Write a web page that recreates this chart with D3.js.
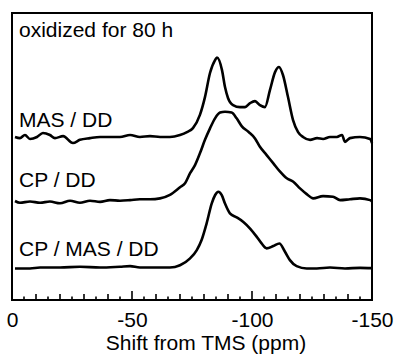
<!DOCTYPE html>
<html>
<head>
<meta charset="utf-8">
<script src="https://cdn.jsdelivr.net/npm/d3@7"></script>
<style>
  body { margin: 0; background: #fff; }
  text { font-family: "Liberation Sans", Arial, Helvetica, sans-serif; fill: #000; }
</style>
</head>
<body>
<div id="chart"></div>
<script>
// chemical shift (ppm) vs intensity above each baseline (a.u.)
const masDdPpm = [-1.25, -3.3, -5.4, -7.5, -10.4, -12.9, -15.8, -17.9, -21.3, -25.4, -28.3, -32.5, -36.7, -40.8, -45, -49.2, -53.3, -57.5, -61.7, -65.8, -70, -72.9, -75.4, -78.3, -80.4, -82.5, -84.6, -85.4, -87.5, -88.75, -90, -92.1, -95, -97.1, -99.2, -101.25, -103.3, -105.4, -107.5, -109.6, -111.25, -112.9, -115, -117.1, -119.2, -121.25, -124.2, -127.1, -129.6, -132.5, -135.4, -137.5, -138.75, -140.8, -145, -149.2, -150];
const masDdInt = [0.7, 0.3, 1.4, 0, 0.7, 2.1, 1.4, 0.3, 1.0, -1.4, -0.3, 0.3, 0.7, 0.7, 0.7, 1.4, 0.7, 1.0, 0.7, 0.7, 1.4, 2.4, 3.8, 8.4, 14.6, 23.0, 27.5, 28.4, 24.0, 18.1, 14.3, 11.8, 11.1, 11.1, 12.5, 13.2, 11.8, 11.1, 17.1, 23.3, 25.1, 22.3, 14.6, 6.6, 2.4, 0.7, -0.3, 0.3, 0, 0.7, 0.7, 1.4, -1.0, 0.3, 0.7, 0, -1.4];

const cpDdPpm = [-1.25, -3.3, -7.5, -11.7, -15.8, -20, -24.2, -28.3, -32.5, -36.7, -40.8, -45, -49.2, -53.3, -57.5, -61.7, -65.8, -70, -72.1, -74.2, -76.25, -78.3, -80.4, -82.5, -84.6, -86.7, -88.75, -91.5, -93.6, -95.7, -98.5, -101.25, -103.3, -106.1, -108.9, -111.7, -114.5, -117.2, -120, -122.8, -125.5, -129.6, -133.75, -136.7, -140.8, -145, -149.2, -150];
const cpDdInt = [0, -0.6, -0.2, -0.6, -0.2, -0.8, 0.1, -0.6, 0.1, -0.3, 0.3, 0.1, 0.3, 0.6, 0.6, 0.9, 2.1, 4.8, 6.2, 9.7, 12.5, 16.6, 21.3, 25.3, 28.8, 30.8, 31.1, 30.8, 28.8, 26.1, 24.1, 21.8, 18.9, 16.0, 13.1, 10.2, 7.9, 6.7, 4.4, 2.4, 0.9, 1.7, 1.5, 0.3, 0.6, 0.9, 0.3, -0.2];

const cpMasDdPpm = [-1.25, -7.5, -11.7, -20, -28.3, -36.7, -45, -49.2, -53.3, -61.7, -65.8, -70, -74.2, -77, -79, -81.1, -83.2, -84.6, -86, -87.4, -88.75, -90.8, -93.6, -96.4, -99.2, -102, -104, -106.1, -108.9, -111.4, -113.75, -115.8, -118.6, -122.8, -127, -132.5, -138.75, -145, -150];
const cpMasDdInt = [-0.1, -0.1, 0.2, 0.2, 0.5, 0.2, 0.5, 0.7, 0.2, 0.2, 0.2, 1.0, 3.4, 6.3, 9.8, 15.6, 22.5, 25.4, 26.6, 25.4, 22.5, 19.1, 17.7, 16.1, 13.8, 10.9, 8.6, 6.9, 7.7, 8.6, 5.7, 2.8, 0.7, -0.1, -0.1, 0.2, -0.1, 0.1, 0];

const spectrumNames = ["MAS / DD", "CP / DD", "CP / MAS / DD"];
const spectrumOffsets = [56.1, 34.5, 11.1];
const labelOffsets = [60.4, 39.4, 15.3];
const xTickLabels = [0, -50, -100, -150];
const panelTitle = "oxidized for 80 h";
const xTitle = "Shift from TMS (ppm)";

const spectra = [
  { ppm: masDdPpm, val: masDdInt },
  { ppm: cpDdPpm, val: cpDdInt },
  { ppm: cpMasDdPpm, val: cpMasDdInt }
].map((s, i) => ({
  name: spectrumNames[i],
  offset: spectrumOffsets[i],
  points: s.ppm.map((p, j) => ({ ppm: p, v: s.val[j] }))
}));

const width = 394, height = 358;
const margin = { top: 13, right: 22, bottom: 58, left: 12 };

const svg = d3.select("#chart").append("svg")
  .attr("width", width)
  .attr("height", height);

const x = d3.scaleLinear()
  .domain([0, -150])
  .range([margin.left, width - margin.right]);

const y = d3.scaleLinear()
  .domain([0, 100])
  .range([height - margin.bottom, margin.top]);

// spectra
const line = d3.line()
  .x(d => x(d.ppm))
  .curve(d3.curveMonotoneX);

svg.append("g").selectAll("path")
  .data(spectra)
  .enter()
  .append("path")
  .attr("d", s => line.y(d => y(d.v + s.offset))(s.points))
  .attr("fill", "none")
  .attr("stroke", "#000")
  .attr("stroke-width", 2.6)
  .attr("stroke-linejoin", "round");

// frame
svg.append("rect")
  .attr("x", x(0))
  .attr("y", y(100))
  .attr("width", x(-150) - x(0))
  .attr("height", y(0) - y(100))
  .attr("fill", "none")
  .attr("stroke", "#000")
  .attr("stroke-width", 2);

// ticks: every 5, longer every 10, longest every 50
const axisY = y(0);
const minorTicks = d3.range(-5, -150, -5);
function tickLen(v) {
  if (v % 50 === 0) return 9;
  if (v % 10 === 0) return 6;
  return 3.5;
}
svg.append("g").selectAll("line")
  .data(minorTicks)
  .enter()
  .append("line")
  .attr("x1", d => x(d))
  .attr("x2", d => x(d))
  .attr("y1", axisY)
  .attr("y2", d => axisY - tickLen(d))
  .attr("stroke", "#000")
  .attr("stroke-width", 1.6);

const xAxis = d3.axisBottom(x)
  .tickValues(xTickLabels)
  .tickSize(0)
  .tickPadding(12)
  .tickFormat(d => String(d));
const gx = svg.append("g")
  .attr("transform", "translate(0," + axisY + ")")
  .call(xAxis);
gx.select(".domain").remove();
gx.selectAll("text")
  .style("font-size", "21px")
  .style("font-family", "'Liberation Sans', Arial, sans-serif")
  .attr("fill", "#000");

svg.append("text")
  .attr("x", (x(0) + x(-150)) / 2 + 14)
  .attr("y", 350)
  .attr("text-anchor", "middle")
  .style("font-size", "21px")
  .text(xTitle);

svg.append("text")
  .attr("x", 19)
  .attr("y", 37)
  .style("font-size", "21px")
  .text(panelTitle);

svg.append("g").selectAll("text")
  .data(spectrumNames)
  .enter()
  .append("text")
  .attr("x", 19)
  .attr("y", (d, i) => y(labelOffsets[i]))
  .style("font-size", "21px")
  .text(d => d);
</script>
</body>
</html>
